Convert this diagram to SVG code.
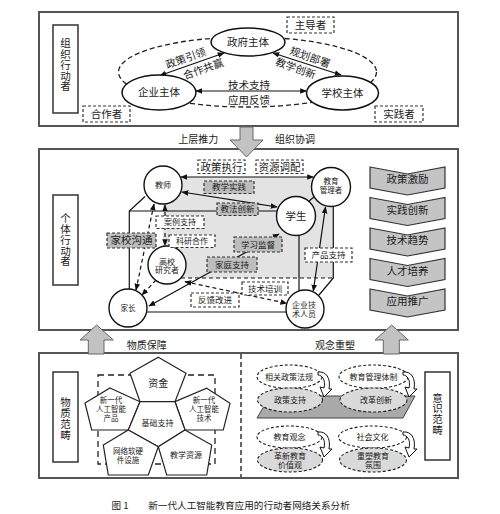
<svg xmlns="http://www.w3.org/2000/svg" width="500" height="514" viewBox="0 0 500 514">
<defs>
<style>
text{font-family:"Noto Sans CJK SC","Noto Sans",sans-serif;fill:#1a1a1a;text-anchor:middle}
.vt{writing-mode:vertical-rl;font-size:10.5px;letter-spacing:0.3px}
.frame{fill:#fff;stroke:#555;stroke-width:2}
.vbox{fill:#fff;stroke:#333;stroke-width:1.5}
.db{fill:#fff;stroke:#333;stroke-width:1.2;stroke-dasharray:3 2}
.gb{fill:#bdbdbd;stroke:#333;stroke-width:1.2;stroke-dasharray:3 2}
.ln{fill:none;stroke:#111;stroke-width:1.2}
.dl{fill:none;stroke:#111;stroke-width:1.2;stroke-dasharray:4 3}
.cir{fill:#fff;stroke:#111;stroke-width:1.4}
.el{fill:#fff;stroke:#111;stroke-width:1.5}
.de{fill:#fff;stroke:#222;stroke-width:1.1;stroke-dasharray:3 2}
.dg{fill:#dadada;stroke:#222;stroke-width:1.1;stroke-dasharray:3 2}
.pent{fill:#fff;stroke:#222;stroke-width:1.2}
.chev{fill:#c4c4c4;stroke:#333;stroke-width:1.2}
.barrow{fill:#c2c2c2;stroke:#666;stroke-width:1}
</style>
<marker id="ah" viewBox="0 0 10 10" refX="9" refY="5" markerWidth="7" markerHeight="7" markerUnits="userSpaceOnUse" orient="auto-start-reverse">
<path d="M0,1 L10,5 L0,9 z" fill="#111"/>
</marker>
<path id="carrow" d="M0,0 C8,-1 13,6 11,17 L14,17 L6,25 L2,15 L6,16 C8,8 4,3 0,3 Z" fill="#fff" stroke="#111" stroke-width="1"/>
</defs>
<rect width="500" height="514" fill="#fff"/>

<!-- TOP SECTION -->
<g id="org-section">
<rect class="frame" x="39" y="12" width="419" height="114"/>
<rect class="vbox" x="53" y="25" width="25" height="88"/>
<text class="vt" x="65.5" y="65">组织行动者</text>
<ellipse cx="247.5" cy="72" rx="129" ry="35" fill="none" stroke="#222" stroke-width="1.3" stroke-dasharray="5 3"/>
</g>
<g id="org-connectors">
<line class="ln" x1="224" y1="53" x2="160" y2="75.5" marker-start="url(#ah)" marker-end="url(#ah)"/>
<line class="ln" x1="273" y1="53" x2="341" y2="75" marker-start="url(#ah)" marker-end="url(#ah)"/>
<line class="ln" x1="196" y1="91" x2="306.5" y2="91" marker-start="url(#ah)" marker-end="url(#ah)"/>
<text font-size="10.5" transform="translate(185.7,58.3) rotate(-19.5)" y="3.7">政策引领</text>
<text font-size="10.5" transform="translate(203.3,69) rotate(-19.5)" y="3.7">合作共赢</text>
<text font-size="10.5" transform="translate(310,57.3) rotate(19.5)" y="3.7">规划部署</text>
<text font-size="10.5" transform="translate(295.7,68.3) rotate(19.5)" y="3.7">教学创新</text>
<text font-size="10.5" x="249" y="88.5">技术支持</text>
<text font-size="10.5" x="249" y="104">应用反馈</text>
</g>
<g id="gov"><ellipse class="el" cx="248" cy="42" rx="37" ry="14"/><text font-size="10.5" x="248" y="45.8">政府主体</text></g>
<g id="ent"><ellipse class="el" cx="159" cy="92.5" rx="37" ry="17.5"/><text font-size="10.5" x="159" y="96.3">企业主体</text></g>
<g id="sch"><ellipse class="el" cx="342.5" cy="93" rx="36" ry="17"/><text font-size="10.5" x="342.5" y="96.8">学校主体</text></g>
<g id="lead"><rect class="db" x="287" y="17" width="47" height="16"/><text font-size="10.5" x="310.5" y="28.8">主导者</text></g>
<g id="coop"><rect class="db" x="83" y="106" width="47" height="16"/><text font-size="10.5" x="106.5" y="117.8">合作者</text></g>
<g id="prac"><rect class="db" x="375" y="106" width="48" height="16"/><text font-size="10.5" x="399" y="117.8">实践者</text></g>

<!-- MIDDLE SECTION -->
<g id="ind-section">
<rect class="frame" x="39" y="149" width="419" height="181"/>
<rect class="vbox" x="53" y="195" width="25" height="90"/>
<text class="vt" x="65.5" y="240">个体行动者</text>
<rect x="163" y="177" width="170" height="101" fill="#e3e3e3"/>
</g>
<g id="arrow-top"><polygon class="barrow" points="240,127 253,127 253,140 263,140 246.5,157 230,140 240,140"/></g>
<text font-size="10" x="198.3" y="143">上层推力</text>
<text font-size="10" x="295" y="143">组织协调</text>

<g id="net-connectors">
<line class="ln" x1="181" y1="177" x2="313.5" y2="177" marker-start="url(#ah)" marker-end="url(#ah)"/>
<line class="ln" x1="182" y1="192" x2="277" y2="207" marker-start="url(#ah)" marker-end="url(#ah)"/>
<polyline class="ln" points="145,196.5 129.3,211 129.3,289.5"/>
<line class="ln" x1="129.3" y1="211" x2="277" y2="211"/>
<line class="ln" x1="308.3" y1="201.7" x2="318.3" y2="193.3"/>
<polyline class="ln" points="333.3,206 333.3,278 319,295"/>
<line class="ln" x1="299" y1="235" x2="299" y2="291"/>
<line class="ln" x1="147" y1="312" x2="287" y2="312"/>
<line class="dl" x1="181" y1="278" x2="333" y2="278"/>
<line class="ln" x1="313.3" y1="291" x2="325.5" y2="207" marker-start="url(#ah)" marker-end="url(#ah)"/>
<line class="dl" x1="165" y1="205" x2="165" y2="245.5" marker-start="url(#ah)" marker-end="url(#ah)"/>
<line class="dl" x1="154" y1="204" x2="136" y2="290" marker-start="url(#ah)" marker-end="url(#ah)"/>
<line class="dl" x1="156" y1="280" x2="142" y2="295" marker-end="url(#ah)"/>
<line class="ln" x1="149" y1="306" x2="279" y2="234" marker-start="url(#ah)" marker-end="url(#ah)"/>
<line class="dl" x1="185" y1="281.7" x2="286.7" y2="303.3" marker-start="url(#ah)" marker-end="url(#ah)"/>
</g>

<g id="teacher"><circle class="cir" cx="163" cy="185" r="19"/><text font-size="8" x="163" y="188">教师</text></g>
<g id="manager"><circle class="cir" cx="331" cy="187" r="19.5"/><text font-size="7.5"><tspan x="331" y="184">教育</tspan><tspan x="331" y="192.5">管理者</tspan></text></g>
<g id="student"><circle class="cir" cx="296" cy="216" r="19.5"/><text font-size="10.5" x="296" y="219.8">学生</text></g>
<g id="researcher"><circle class="cir" cx="167" cy="265" r="19"/><text font-size="8"><tspan x="167" y="264.5">高校</tspan><tspan x="167" y="273">研究者</tspan></text></g>
<g id="parent"><circle class="cir" cx="128" cy="308" r="19"/><text font-size="7.5" x="128" y="310.7">家长</text></g>
<g id="techstaff"><circle class="cir" cx="305" cy="309" r="19"/><text font-size="8"><tspan x="304" y="307.5">企业技</tspan><tspan x="304" y="316.5">术人员</tspan></text></g>

<g id="lbl-zcz"><rect class="db" x="198" y="160" width="47" height="13.5"/><text font-size="10.5" x="221.5" y="170.8">政策执行</text></g>
<g id="lbl-zytp"><rect class="db" x="256" y="160" width="47" height="13.5"/><text font-size="10.5" x="279.5" y="170.8">资源调配</text></g>
<g id="lbl-jxsj"><rect class="gb" x="204" y="181" width="50" height="12.5"/><text font-size="8.5" x="229" y="190.3">教学实践</text></g>
<g id="lbl-jfcx"><rect class="gb" x="217" y="203" width="41" height="12.5"/><text font-size="8.5" x="237.5" y="212.3">教法创新</text></g>
<g id="lbl-alzc"><rect class="db" x="156" y="216" width="48" height="12.5"/><text font-size="8" x="180" y="225.2">案例支持</text></g>
<g id="lbl-kyhz"><rect class="db" x="169" y="235" width="46" height="12.5"/><text font-size="8" x="192" y="244.2">科研合作</text></g>
<g id="lbl-jxgt"><rect class="gb" x="107" y="233" width="49" height="15"/><text font-size="10.5" x="131.5" y="244.3">家校沟通</text></g>
<g id="lbl-xxjd"><rect class="gb" x="234" y="237" width="48" height="15"/><text font-size="8.5" x="258" y="247.5">学习监督</text></g>
<g id="lbl-jtzc"><rect class="gb" x="207" y="257" width="50" height="15"/><text font-size="8.5" x="232" y="267.5">家庭支持</text></g>
<g id="lbl-jspx"><rect class="db" x="242" y="282" width="46" height="13"/><text font-size="8.5" x="265" y="291.5">技术培训</text></g>
<g id="lbl-fkgj"><rect class="db" x="191" y="293" width="48" height="14"/><text font-size="8.5" x="215" y="303">反馈改进</text></g>
<g id="lbl-cpzc"><rect class="db" x="305" y="248" width="47" height="14"/><text font-size="8.5" x="328.5" y="258">产品支持</text></g>

<g id="chevrons">
<polygon class="chev" points="370,167 407.5,174 445,167 445,188 407.5,195 370,188"/>
<text font-size="10.5" x="407.5" y="183">政策激励</text>
<polygon class="chev" points="370,197.5 407.5,204.5 445,197.5 445,218.5 407.5,225.5 370,218.5"/>
<text font-size="10.5" x="407.5" y="213.5">实践创新</text>
<polygon class="chev" points="370,228 407.5,235 445,228 445,249 407.5,256 370,249"/>
<text font-size="10.5" x="407.5" y="244">技术趋势</text>
<polygon class="chev" points="370,258.5 407.5,265.5 445,258.5 445,279.5 407.5,286.5 370,279.5"/>
<text font-size="10.5" x="407.5" y="274.5">人才培养</text>
<polygon class="chev" points="370,289 407.5,296 445,289 445,310 407.5,317 370,310"/>
<text font-size="10.5" x="407.5" y="305">应用推广</text>
</g>

<!-- BOTTOM SECTION -->
<g id="bottom-section">
<rect class="frame" x="39" y="353" width="419" height="125"/>
<line x1="241" y1="354" x2="241" y2="477" stroke="#333" stroke-width="1.5" stroke-dasharray="5 3"/>
</g>
<g id="arrow-left"><polygon class="barrow" points="88.3,354 104,354 104,340 113.3,340 96.7,325 80,340 88.3,340"/></g>
<g id="arrow-right"><polygon class="barrow" points="383.3,354 399.3,354 399.3,340 408.3,340 391.7,325 375,340 383.3,340"/></g>
<text font-size="10" x="146.7" y="348.6">物质保障</text>
<text font-size="10" x="335" y="348.6">观念重塑</text>

<g id="material">
<rect class="vbox" x="53" y="372" width="25" height="90"/>
<text class="vt" x="65.5" y="418.5">物质范畴</text>
<rect x="98" y="375" width="117" height="89" fill="none" stroke="#222" stroke-width="1.3" stroke-dasharray="6 4"/>
<g id="p-fund"><polygon class="pent" points="158.3,357.3 186,373.3 175,401.7 140,401.7 130,373.3"/><text font-size="10" x="158.3" y="386.6">资金</text></g>
<g id="p-product"><polygon class="pent" points="110,388 140,401.7 128.3,430 91.7,430 85,403"/><text font-size="7.5"><tspan x="111" y="402.7">新一代</tspan><tspan x="111" y="412">人工智能</tspan><tspan x="111" y="421">产品</tspan></text></g>
<g id="p-tech"><polygon class="pent" points="206.7,388.3 230,403.3 223.3,430 185,430 175,401.7"/><text font-size="7.5"><tspan x="204" y="402.7">新一代</tspan><tspan x="204" y="412">人工智能</tspan><tspan x="204" y="421">技术</tspan></text></g>
<g id="p-base"><polygon class="pent" points="140,401.7 175,401.7 185,430 158.3,446.7 128.3,430"/><text font-size="8" x="157.5" y="426">基础支持</text></g>
<g id="p-net"><polygon class="pent" points="128.3,430 158.3,446.7 148.3,475 108.3,475 103.3,445"/><text font-size="7.5"><tspan x="128" y="453.5">网络软硬</tspan><tspan x="128" y="463">件设施</tspan></text></g>
<g id="p-res"><polygon class="pent" points="185,430 211.7,445 206.7,475 166.7,475 158.3,446.7"/><text font-size="8" x="186" y="458">教学资源</text></g>
</g>

<g id="ideology">
<polygon points="257,418 403,418 415,396 270,396" fill="#a9a9a9" stroke="#444" stroke-width="1"/>
<g id="e-zcfg"><ellipse class="de" cx="289.5" cy="376.7" rx="32.5" ry="11.7"/><text font-size="8" x="289" y="379.5">相关政策法规</text></g>
<g id="e-zczc"><ellipse class="dg" cx="290" cy="400" rx="32.5" ry="12"/><text font-size="8" x="290" y="403">政策支持</text></g>
<use href="#carrow" x="318" y="372"/>
<g id="e-glt"><ellipse class="de" cx="373.5" cy="376.7" rx="34.5" ry="11.7"/><text font-size="8" x="373.5" y="379.5">教育管理体制</text></g>
<g id="e-ggcx"><ellipse class="dg" cx="373.5" cy="400" rx="33.5" ry="12"/><text font-size="8" x="376" y="403">改革创新</text></g>
<use href="#carrow" x="403" y="372"/>
<g id="e-jygn"><ellipse class="de" cx="289.5" cy="437" rx="32.5" ry="11"/><text font-size="8" x="289.5" y="440">教育观念</text></g>
<g id="e-gxjy"><ellipse class="dg" cx="290" cy="460" rx="32.5" ry="12"/><text font-size="8"><tspan x="290" y="458.5">革新教育</tspan><tspan x="290" y="467.5">价值观</tspan></text></g>
<use href="#carrow" x="318" y="432"/>
<g id="e-shwh"><ellipse class="de" cx="372.5" cy="437" rx="34" ry="11"/><text font-size="8" x="372.5" y="440">社会文化</text></g>
<g id="e-cjfw"><ellipse class="dg" cx="373" cy="460" rx="33.5" ry="12"/><text font-size="8"><tspan x="373" y="458.5">重塑教育</tspan><tspan x="373" y="467.5">氛围</tspan></text></g>
<use href="#carrow" x="403" y="432"/>
<rect class="vbox" x="425" y="372" width="25" height="88"/>
<text class="vt" x="437.5" y="414">意识范畴</text>
</g>

<g id="caption">
<text font-size="9.6" x="120" y="508.5">图 1</text>
<text font-size="9.6" x="249" y="508.5">新一代人工智能教育应用的行动者网络关系分析</text>
</g>
</svg>
